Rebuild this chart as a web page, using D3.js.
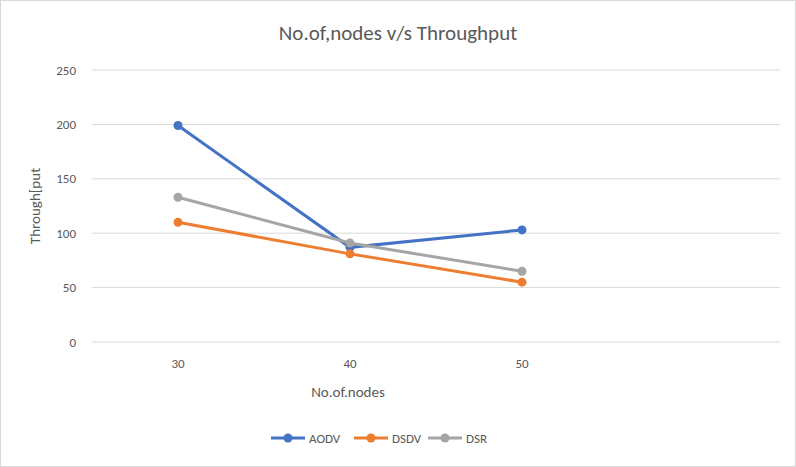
<!DOCTYPE html>
<html>
<head>
<meta charset="utf-8">
<script src="https://cdn.jsdelivr.net/npm/d3@7"></script>
<style>
  body { margin: 0; background: #fff; }
  text { font-family: Calibri, Carlito, "Open Sans", sans-serif; fill: #595959; }
</style>
</head>
<body>
<div id="chart"></div>
<script>
var categories = ["30", "40", "50", ""];
var seriesNames = ["AODV", "DSDV", "DSR"];
var colors = ["#4472C4", "#ED7D31", "#A5A5A5"];
var aodv = [199, 87, 103];
var dsdv = [110, 81, 55];
var dsr = [133, 91, 65];
var yTicks = [0, 50, 100, 150, 200, 250];

var width = 796, height = 467;
var plotLeft = 92, plotRight = 780, plotTop = 70, plotBottom = 342;

var svg = d3.select("#chart").append("svg")
    .attr("width", width)
    .attr("height", height);

svg.append("rect")
    .attr("x", 0.5).attr("y", 0.5)
    .attr("width", width - 1).attr("height", height - 1)
    .attr("fill", "#fff").attr("stroke", "#d9d9d9");

var x = d3.scaleBand().domain(categories).range([plotLeft, plotRight]);
var y = d3.scaleLinear().domain([0, 250]).range([plotBottom, plotTop]);

svg.selectAll(".grid").data(yTicks).enter().append("line")
    .attr("x1", plotLeft).attr("x2", plotRight)
    .attr("y1", function (d) { return y(d); })
    .attr("y2", function (d) { return y(d); })
    .attr("stroke", "#d9d9d9");

svg.selectAll(".ylab").data(yTicks).enter().append("text")
    .attr("x", 76).attr("y", function (d) { return y(d); })
    .attr("dy", "0.35em").attr("text-anchor", "end")
    .attr("font-size", 13)
    .text(function (d) { return d; });

svg.selectAll(".xlab").data(categories).enter().append("text")
    .attr("x", function (d) { return x(d) + x.bandwidth() / 2; })
    .attr("y", 368).attr("text-anchor", "middle")
    .attr("font-size", 13)
    .text(function (d) { return d; });

svg.append("text").attr("x", 398).attr("y", 40)
    .attr("text-anchor", "middle").attr("font-size", 21)
    .text("No.of,nodes v/s Throughput");

svg.append("text").attr("x", 348).attr("y", 397)
    .attr("text-anchor", "middle").attr("font-size", 15)
    .text("No.of.nodes");

svg.append("text")
    .attr("transform", "translate(40," + ((plotTop + plotBottom) / 2) + ") rotate(-90)")
    .attr("text-anchor", "middle").attr("font-size", 15)
    .text("Through[put");

var allSeries = [aodv, dsdv, dsr];
var line = d3.line()
    .x(function (d, i) { return x(categories[i]) + x.bandwidth() / 2; })
    .y(function (d) { return y(d); });

allSeries.forEach(function (vals, s) {
    svg.append("path").datum(vals)
        .attr("d", line).attr("fill", "none")
        .attr("stroke", colors[s]).attr("stroke-width", 3);
    svg.selectAll(".pt" + s).data(vals).enter().append("circle")
        .attr("cx", function (d, i) { return x(categories[i]) + x.bandwidth() / 2; })
        .attr("cy", function (d) { return y(d); })
        .attr("r", 4.5).attr("fill", colors[s]);
});

var legendX = [271, 354, 428];
seriesNames.forEach(function (name, s) {
    var g = svg.append("g").attr("transform", "translate(" + legendX[s] + ",438)");
    g.append("line").attr("x1", 0).attr("x2", 34)
        .attr("stroke", colors[s]).attr("stroke-width", 3);
    g.append("circle").attr("cx", 17).attr("r", 4.5).attr("fill", colors[s]);
    g.append("text").attr("x", 38).attr("dy", "0.35em")
        .attr("font-size", 13).text(name);
});
</script>
</body>
</html>
